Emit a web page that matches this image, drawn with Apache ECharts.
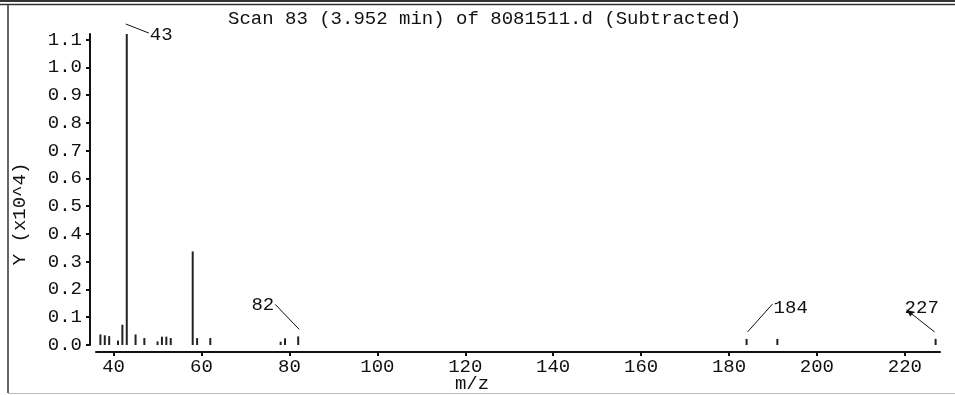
<!DOCTYPE html>
<html>
<head>
<meta charset="utf-8">
<script src="https://cdn.jsdelivr.net/npm/echarts@6/dist/echarts.min.js"></script>
<style>
  html, body { margin: 0; padding: 0; background: #fff; }
  #chart { width: 955px; height: 395px; }
</style>
</head>
<body>
<div id="chart"></div>
<script>
// spectrum: m/z and abundance (x10^4)
var mz = [37, 38, 39, 41, 42, 43, 45, 47, 50, 51, 52, 53, 58, 59, 62, 78, 79, 82, 184, 191, 227];
var abundance = [0.038, 0.035, 0.032, 0.016, 0.073, 1.12, 0.038, 0.025, 0.013, 0.030, 0.030, 0.025,
                 0.337, 0.025, 0.025, 0.012, 0.024, 0.031, 0.022, 0.022, 0.022];
var labelledPeaks = [43, 82, 184, 227];
var xTicks = [40, 60, 80, 100, 120, 140, 160, 180, 200, 220];
var yTicks = [0.0, 0.1, 0.2, 0.3, 0.4, 0.5, 0.6, 0.7, 0.8, 0.9, 1.0, 1.1];

// leader line / text placement relative to the peak top (pixels)
var leaderStyle = {
  43:  { line: [-1, -10, 22, -1], text: [23, 1], align: 'left' },
  82:  { line: [-23, -32, 1, -7], text: [-24, -31], align: 'right' },
  184: { line: [1, -7, 26, -35], text: [27, -31], align: 'left' },
  227: { line: [-1, -7, -29, -29], text: [-31, -31], align: 'left', arrow: true }
};

var FONT = '"Liberation Mono", "DejaVu Sans Mono", monospace';
var INK = '#111';

var barData = mz.map(function (m, i) { return [m, abundance[i]]; });
var labelData = labelledPeaks.map(function (m) { return [m, abundance[mz.indexOf(m)]]; });

function renderLeader(params, api) {
  var m = api.value(0);
  var p = api.coord([m, api.value(1)]);
  var s = leaderStyle[m];
  var x1 = p[0] + s.line[0], y1 = p[1] + s.line[1];
  var x2 = p[0] + s.line[2], y2 = p[1] + s.line[3];
  var children = [
    { type: 'line', shape: { x1: x1, y1: y1, x2: x2, y2: y2 },
      style: { stroke: INK, lineWidth: 1 } },
    { type: 'text', style: {
        text: String(m), x: p[0] + s.text[0], y: p[1] + s.text[1],
        textAlign: s.align, textVerticalAlign: 'middle',
        font: '19px ' + FONT, fill: INK } }
  ];
  if (s.arrow) {
    var ang = Math.atan2(y2 - y1, x2 - x1), L = 7, W = 3;
    var bx = x2 - L * Math.cos(ang), by = y2 - L * Math.sin(ang);
    children.push({ type: 'polygon', shape: { points: [
      [x2, y2],
      [bx + W * Math.sin(ang), by - W * Math.cos(ang)],
      [bx - W * Math.sin(ang), by + W * Math.cos(ang)]
    ] }, style: { fill: INK } });
  }
  return { type: 'group', children: children };
}

var chart = echarts.init(document.getElementById('chart'), null, { renderer: 'canvas' });
chart.setOption({
  animation: false,
  backgroundColor: '#fff',
  title: {
    text: 'Scan 83 (3.952 min) of 8081511.d (Subtracted)',
    left: 228, top: 9, padding: 0,
    textStyle: { fontFamily: FONT, fontSize: 19, fontWeight: 'normal', color: INK }
  },
  grid: { left: 96, right: 15, top: 34, bottom: 50, containLabel: false },
  xAxis: {
    type: 'value', min: 36, max: 228, offset: 7,
    axisLine: { onZero: false, lineStyle: { color: INK, width: 2 } },
    axisTick: { show: true, customValues: xTicks, length: 4, lineStyle: { color: INK, width: 2 } },
    axisLabel: { customValues: xTicks, fontFamily: FONT, fontSize: 19, color: INK, margin: 5 },
    splitLine: { show: false }
  },
  yAxis: {
    type: 'value', min: 0, max: 1.12, offset: 6,
    axisLine: { show: true, onZero: false, lineStyle: { color: INK, width: 2 } },
    axisTick: { show: true, customValues: yTicks, length: 4, lineStyle: { color: INK, width: 2 } },
    axisLabel: {
      customValues: yTicks, fontFamily: FONT, fontSize: 19, color: INK, margin: 8,
      formatter: function (v) { return v.toFixed(1); }
    },
    splitLine: { show: false }
  },
  graphic: [
    { type: 'line', shape: { x1: 0, y1: 1, x2: 955, y2: 1 }, style: { stroke: '#333', lineWidth: 2 } },
    { type: 'line', shape: { x1: 0, y1: 4.5, x2: 955, y2: 4.5 }, style: { stroke: '#333', lineWidth: 1.5 } },
    { type: 'line', shape: { x1: 8, y1: 5, x2: 8, y2: 393 }, style: { stroke: '#333', lineWidth: 1.5 } },
    { type: 'line', shape: { x1: 8, y1: 393.5, x2: 955, y2: 393.5 }, style: { stroke: '#bbb', lineWidth: 1 } },
    { type: 'text', x: 472, y: 384, style: {
        text: 'm/z', textAlign: 'center', textVerticalAlign: 'middle',
        font: '19px ' + FONT, fill: INK } },
    { type: 'text', x: 20, y: 214, rotation: Math.PI / 2, style: {
        text: 'Y (x10^4)', textAlign: 'center', textVerticalAlign: 'middle',
        font: '19px ' + FONT, fill: INK } }
  ],
  series: [
    {
      type: 'bar', data: barData, barWidth: 2,
      itemStyle: { color: '#222' }, silent: true
    },
    {
      type: 'custom', data: labelData, renderItem: renderLeader, silent: true, z: 5
    }
  ]
});
</script>
</body>
</html>
